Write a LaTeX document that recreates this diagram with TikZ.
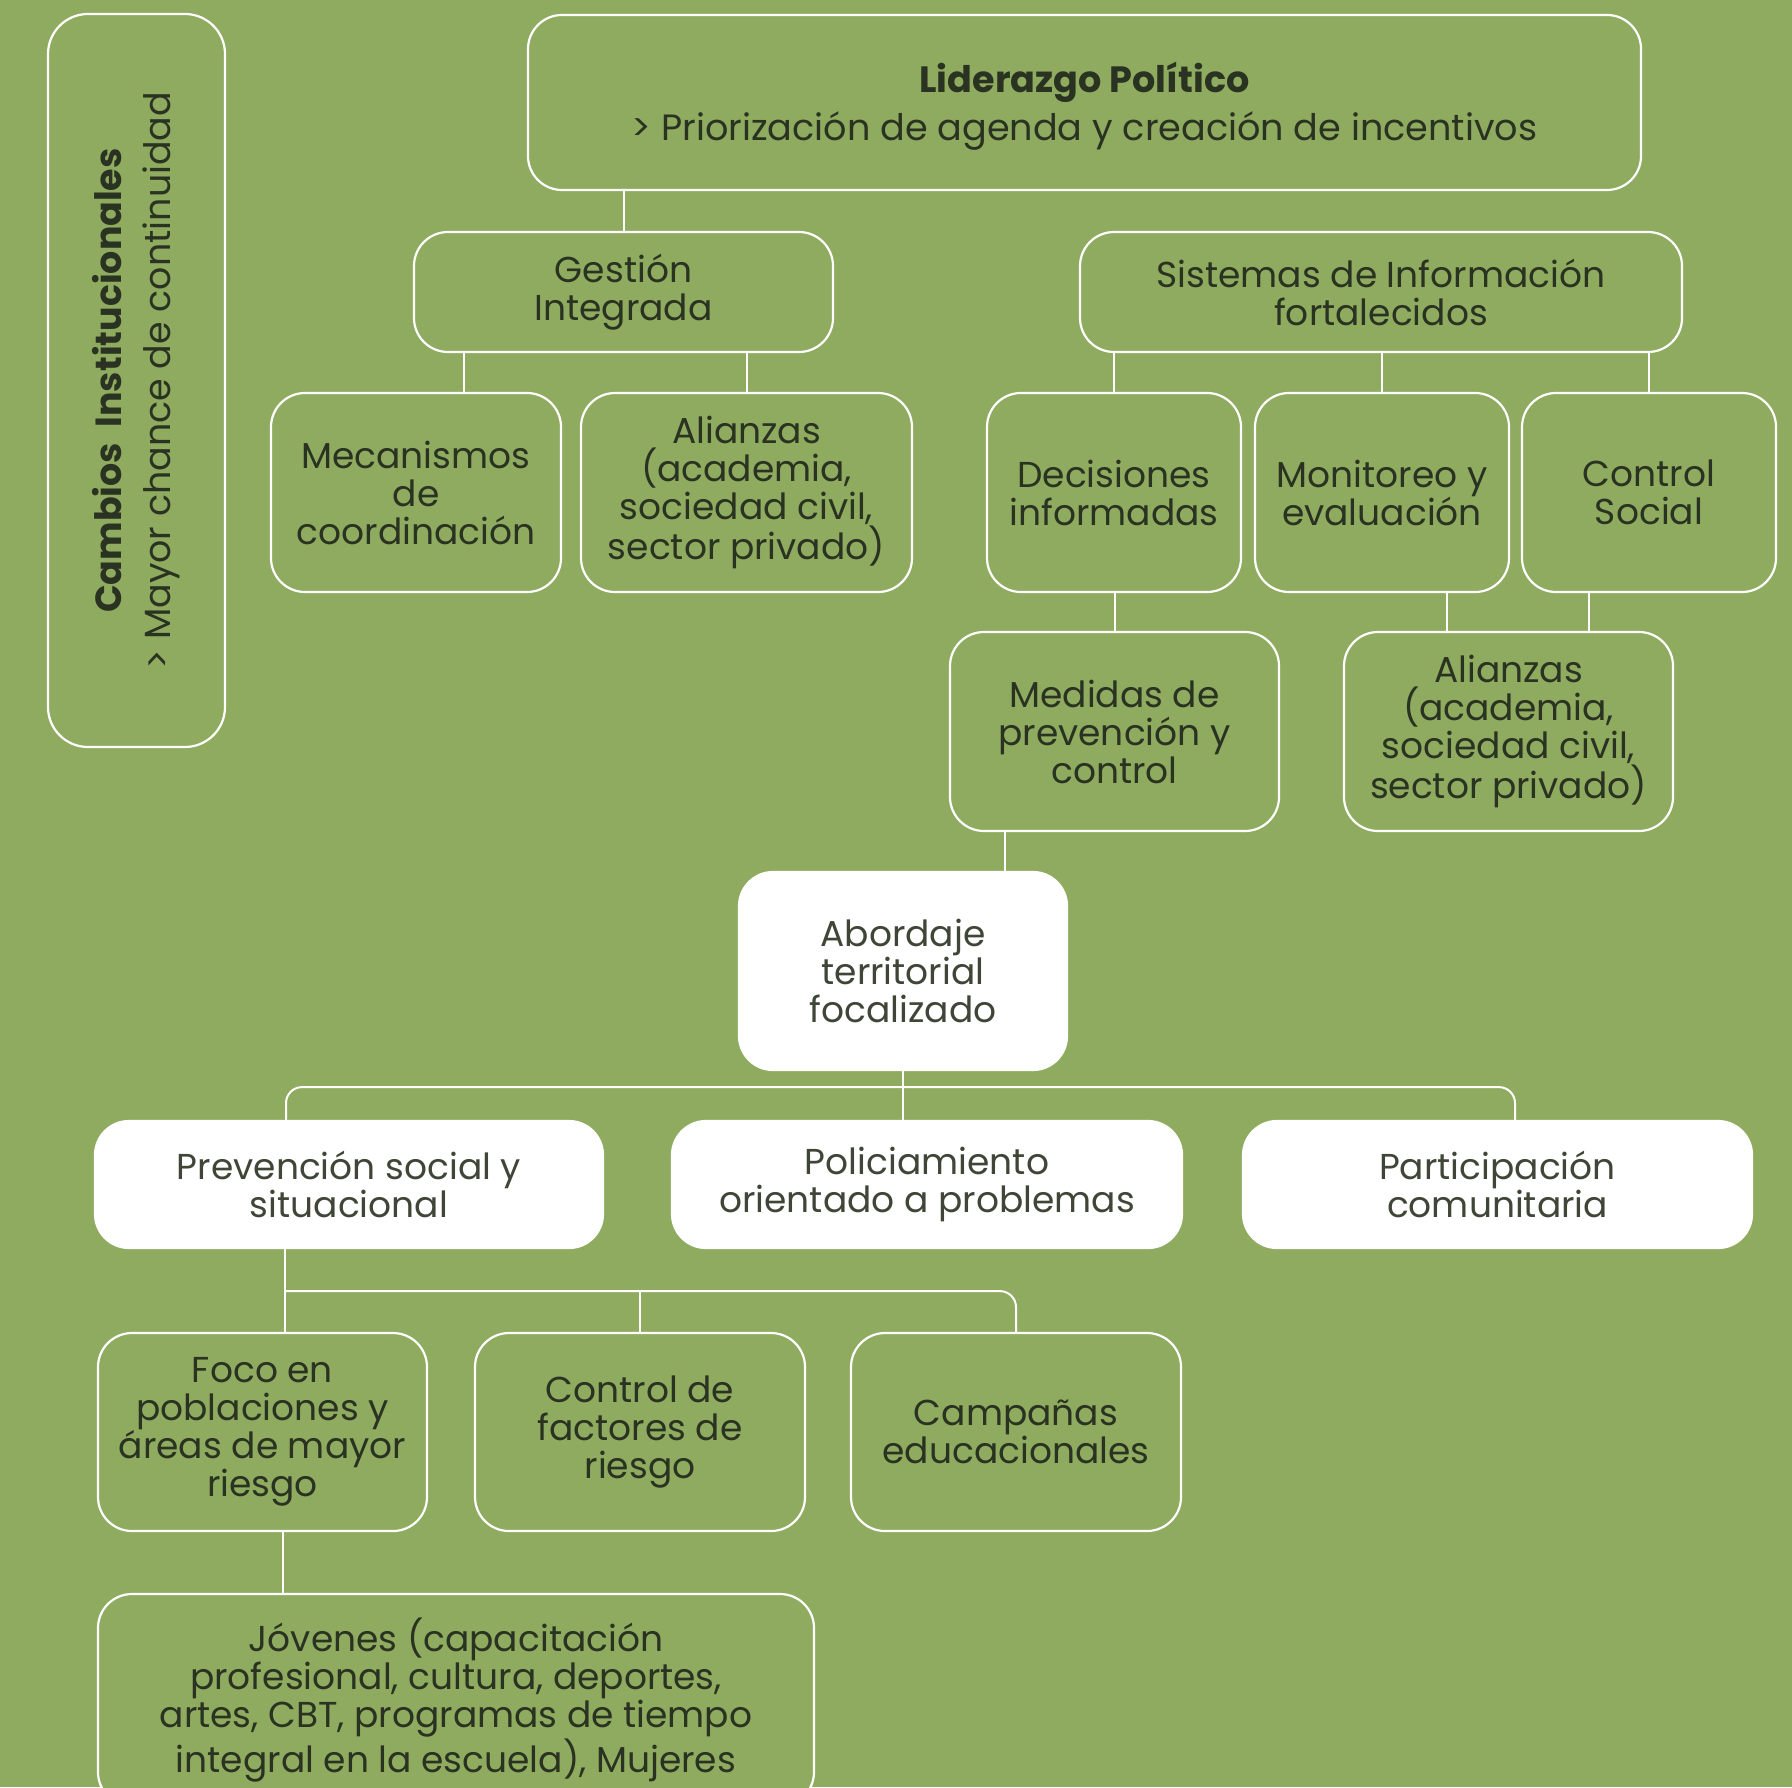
\documentclass[tikz,border=0pt]{standalone}
\usepackage{fontspec}
\setmainfont{Poppins}
\usetikzlibrary{positioning}
\definecolor{leaf}{HTML}{8FAB5F}
\definecolor{ink}{HTML}{2A3221}
\tikzset{%
greenbox/.style={rectangle, rounded corners=17pt, draw=white, line width=1.1pt, fill=leaf, text=ink, align=center, inner sep=2pt, minimum height=99.5pt, font=\fontsize{18}{19}\selectfont},
whitebox/.style={greenbox, fill=white, text=ink!90},
ln/.style={draw=white, line width=1pt}
}
\begin{document}
\begin{tikzpicture}[x=0.5pt, y=-0.5pt]
	\fill[leaf] (0,0) rectangle (1792,1787);
	\useasboundingbox (0,0) rectangle (1792,1787);
	\clip (0,0) rectangle (1792,1787);

	\node[greenbox, rotate=90, rounded corners=20pt, minimum width=366.5pt, minimum height=88.5pt, font=\fontsize{18.2}{24.5}\selectfont] (inst) at (136.5,380.5) {\textbf{Cambios~~Institucionales}\\> Mayor chance de continuidad};

	\node[greenbox, minimum width=556.5pt, minimum height=87.5pt, font=\fontsize{18.3}{24}\selectfont] (lid) at (1084.5,102.5) {\rule{0pt}{19pt}\textbf{Liderazgo Político}\\> Priorización de agenda y creación de incentivos};
	\node[greenbox, minimum width=209.5pt, minimum height=60pt] (gest) at (623.5,292) {Gestión\\Integrada};
	\node[greenbox, minimum width=301pt, minimum height=60pt] (sis) at (1381,292) {Sistemas de Información\\fortalecidos};

	\node[greenbox, minimum width=145pt] (mec) at (416,492.5) {Mecanismos\\de\\coordinación};
	\node[greenbox, minimum width=165.5pt] (ali1) [right=8.9pt of mec] {Alianzas\\(academia,\\sociedad civil,\\sector privado)};
	\node[greenbox, minimum width=127pt] (dec) at (1114,492.5) {Decisiones\\informadas};
	\node[greenbox, minimum width=127pt] (mon) [right=5.9pt of dec] {Monitoreo y\\evaluación};
	\node[greenbox, minimum width=127pt] (con) [right=5.4pt of mon] {Control\\Social};

	\node[greenbox, minimum width=164.5pt] (med) at (1114.5,731.5) {Medidas de\\prevención y\\control};
	\node[greenbox, minimum width=164.5pt] (ali2) [right=31.4pt of med] {Alianzas\\(academia,\\sociedad civil,\\sector privado)};

	\node[whitebox, minimum width=164pt, minimum height=99pt] (abo) at (903,971) {Abordaje\\territorial\\focalizado};

	\node[whitebox, minimum width=254pt, minimum height=63.5pt] (prev) at (349,1184.5) {Prevención social y\\situacional};
	\node[whitebox, minimum width=255pt, minimum height=63.5pt] (pol) [right=33.4pt of prev] {Policiamiento\\orientado a problemas};
	\node[whitebox, minimum width=254.5pt, minimum height=63.5pt] (par) [right=29.4pt of pol] {Participación\\comunitaria};

	\node[greenbox, minimum width=164.5pt, minimum height=99pt] (foco) at (262.5,1432) {Foco en\\poblaciones y\\áreas de mayor\\riesgo};
	\node[greenbox, minimum width=165pt, minimum height=99pt] (cfr) [right=22.9pt of foco] {Control de\\factores de\\riesgo};
	\node[greenbox, minimum width=165pt, minimum height=99pt] (camp) [right=21.9pt of cfr] {Campañas\\educacionales};

	\node[greenbox, minimum width=358pt, minimum height=106pt] (jov) at (456,1700) {\rule{0pt}{16pt}Jóvenes (capacitación\\profesional, cultura, deportes,\\artes, CBT, programas de tiempo\\integral en la escuela), Mujeres};

	% connectors
	\draw[ln] (gest.north) -- (gest.north |- lid.south);
	\draw[ln] ([xshift=24pt]mec.north) -- ([xshift=24pt]mec.north |- gest.south);
	\draw[ln] (ali1.north) -- (ali1.north |- gest.south);
	\draw[ln] (dec.north) -- (dec.north |- sis.south);
	\draw[ln] (mon.north) -- (mon.north |- sis.south);
	\draw[ln] (con.north) -- (con.north |- sis.south);
	\draw[ln] (med.north) -- (med.north |- dec.south);
	\draw[ln] ([xshift=-30.75pt]ali2.north) -- ([xshift=-30.75pt]ali2.north |- mon.south);
	\draw[ln] ([xshift=40pt]ali2.north) -- ([xshift=40pt]ali2.north |- con.south);
	\draw[ln] ([xshift=51pt]abo.north) -- ([xshift=51pt]abo.north |- med.south);

	\coordinate (hub) at ([yshift=-8pt]abo.south);
	\draw[ln] (abo.south) -- (abo.south |- pol.north);
	\draw[ln, rounded corners=8pt] ([xshift=-31.5pt]prev.north) |- (hub) -| ([xshift=8.75pt]par.north);

	\coordinate (fork) at ([yshift=-21pt]prev.south);
	\draw[ln] ([xshift=11.25pt]foco.north) -- ([xshift=11.25pt]foco.north |- prev.south);
	\draw[ln, rounded corners=8pt] ([xshift=11.25pt]foco.north |- fork) -| (camp.north);
	\draw[ln] (cfr.north) -- (cfr.north |- fork);
	\draw[ln] ([xshift=10.25pt]foco.south) -- ([xshift=10.25pt]foco.south |- jov.north);
\end{tikzpicture}
\end{document}
